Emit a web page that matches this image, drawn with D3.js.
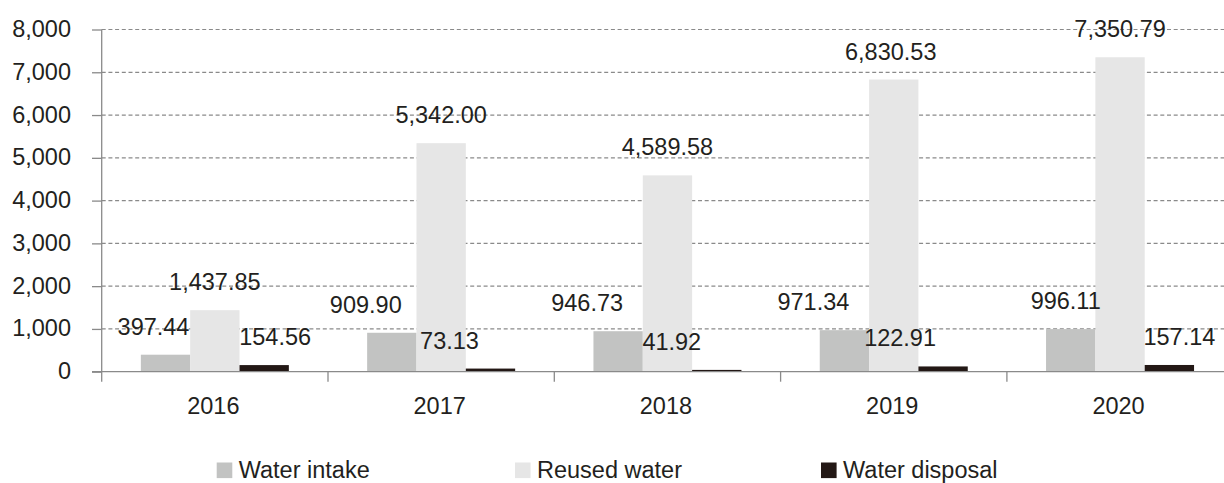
<!DOCTYPE html>
<html>
<head>
<meta charset="utf-8">
<script src="https://cdn.jsdelivr.net/npm/d3@7"></script>
<style>
  html, body { margin: 0; padding: 0; background: #ffffff; }
  svg { display: block; }
  text { font-family: "Liberation Sans", Arial, Helvetica, sans-serif; fill: #231f20; }
</style>
</head>
<body>
<svg id="chart" width="1224" height="483"></svg>
<script>
// Water use by year (cubic metres)
const years = ["2016", "2017", "2018", "2019", "2020"];
const seriesNames = ["Water intake", "Reused water", "Water disposal"];
const waterIntake = [397.44, 909.90, 946.73, 971.34, 996.11];
const reusedWater = [1437.85, 5342.00, 4589.58, 6830.53, 7350.79];
const waterDisposal = [154.56, 73.13, 41.92, 122.91, 157.14];
const yTicks = [0, 1000, 2000, 3000, 4000, 5000, 6000, 7000, 8000];

// Horizontal nudges for value labels so neighbouring labels don't collide
const labelNudge = [
  [-12, -26, -31, -31, -5],
  [0, 0, 0, -3, 0],
  [11, -41, -45, -43, 10]
];

const colors = ["#c2c3c2", "#e6e6e6", "#231815"];
const axisColor = "#8a8a8a";
const fontSize = 23.5;

const svg = d3.select("#chart");
const W = 1224;
const x0 = 101.7, step = 226.3;
const yTop = 29.5, yBottom = 371.7;

const x = d3.scaleBand().domain(years).range([x0, x0 + step * years.length]).padding(0);
const x1 = d3.scaleBand().domain(d3.range(3)).range([0, x.bandwidth()])
  .paddingInner(0).paddingOuter(0.7935);
const y = d3.scaleLinear().domain([0, 8000]).range([yBottom, yTop]);

const fmt = d3.format(",.2f");
const fmtTick = d3.format(",");

// Dashed gridlines
svg.append("g").selectAll("line").data(yTicks.filter(d => d > 0)).join("line")
  .attr("x1", x0).attr("x2", W)
  .attr("y1", d => y(d)).attr("y2", d => y(d))
  .attr("stroke", axisColor).attr("stroke-width", 1.2)
  .attr("stroke-dasharray", "4,2.7");

// Y axis: ticks and labels
const yAxis = d3.axisLeft(y).tickValues(yTicks).tickSize(9.7).tickPadding(21)
  .tickFormat(fmtTick);
const gy = svg.append("g").attr("transform", `translate(${x0},0)`).call(yAxis);
gy.select(".domain").remove();
gy.selectAll(".tick line").attr("stroke", axisColor).attr("stroke-width", 1.3);
gy.selectAll(".tick text")
  .attr("font-size", fontSize).attr("font-family", null).attr("fill", "#231f20")
  .attr("dy", "0.3em");

// Bars
const series = [waterIntake, reusedWater, waterDisposal];
const groups = svg.append("g").selectAll("g").data(years).join("g")
  .attr("transform", d => `translate(${x(d)},0)`);

groups.selectAll("rect").data((yr, i) => series.map((s, k) => ({k, v: s[i]}))).join("rect")
  .attr("x", d => x1(d.k))
  .attr("width", x1.bandwidth())
  .attr("y", d => y(d.v))
  .attr("height", d => y(0) - y(d.v))
  .attr("fill", d => colors[d.k]);

// X axis baseline and category ticks
svg.append("line")
  .attr("x1", x0 - 9.7).attr("x2", W)
  .attr("y1", yBottom).attr("y2", yBottom)
  .attr("stroke", axisColor).attr("stroke-width", 1.3);
svg.append("line")
  .attr("x1", x0).attr("x2", x0)
  .attr("y1", yTop).attr("y2", yBottom + 10)
  .attr("stroke", axisColor).attr("stroke-width", 1.3);
svg.append("g").selectAll("line").data(years.slice(1)).join("line")
  .attr("x1", d => x(d)).attr("x2", d => x(d))
  .attr("y1", yBottom).attr("y2", yBottom + 10)
  .attr("stroke", axisColor).attr("stroke-width", 1.3);

// Category labels
svg.append("g").selectAll("text").data(years).join("text")
  .attr("x", d => x(d) + x.bandwidth() / 2 - 1.5)
  .attr("y", 414)
  .attr("text-anchor", "middle")
  .attr("font-size", fontSize)
  .text(d => d);

// Value labels
groups.selectAll("text.val").data((yr, i) => series.map((s, k) => ({k, i, v: s[i]}))).join("text")
  .attr("class", "val")
  .attr("x", d => x1(d.k) + x1.bandwidth() / 2 + labelNudge[d.k][d.i])
  .attr("y", d => y(d.v) - 20)
  .attr("text-anchor", "middle")
  .attr("font-size", fontSize)
  .text(d => fmt(d.v));

// Legend along the bottom edge
const legendX = [216.7, 515, 821];
const legend = svg.append("g").selectAll("g").data(seriesNames).join("g")
  .attr("transform", (d, i) => `translate(${legendX[i]},462.5)`);
legend.append("rect")
  .attr("width", 15.6).attr("height", 15.6)
  .attr("fill", (d, i) => colors[i]);
legend.append("text")
  .attr("x", 22).attr("y", 15.7)
  .attr("font-size", fontSize)
  .text(d => d);
</script>
</body>
</html>
